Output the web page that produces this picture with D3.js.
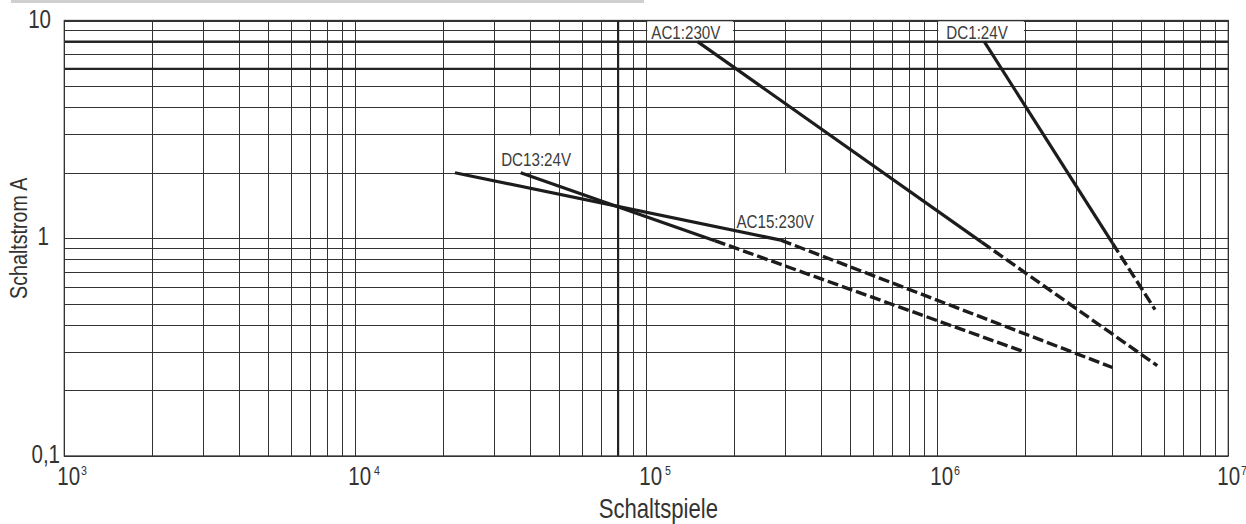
<!DOCTYPE html>
<html><head><meta charset="utf-8">
<script src="https://cdn.jsdelivr.net/npm/d3@7"></script>
<style>body{margin:0;background:#fff}svg{display:block}</style>
</head><body>
<svg id="c" width="1246" height="524"></svg>
<script>
// ---------- data ----------
const xDomain = [1e3, 1e7];
const yDomain = [0.1, 10];
const xTickValues = [1e3, 1e4, 1e5, 1e6, 1e7];
const xTickBase = ["10", "10", "10", "10", "10"];
const xTickExp = ["3", "4", "5", "6", "7"];
const yTickValues = [10, 1, 0.1];
const yTickLabels = ["10", "1", "0,1"];
const xThickGrid = [8e4];
const yThickGrid = [8, 6];
const xTitle = "Schaltspiele";
const yTitle = "Schaltstrom A";

const seriesNames = ["AC1:230V", "DC1:24V", "AC15:230V", "DC13:24V"];
// points: start, beginning of dashed part, end
const ac1X = [1.5e5, 1.42e6, 5.7e6];
const ac1Y = [8, 0.96, 0.26];
const dc1X = [1.45e6, 4.0e6, 5.6e6];
const dc1Y = [8, 0.95, 0.47];
const ac15X = [2.2e4, 2.9e5, 4.0e6];
const ac15Y = [2, 0.98, 0.255];
const dc13X = [3.7e4, 1.72e5, 2.0e6];
const dc13Y = [2, 0.975, 0.3];
const seriesX = [ac1X, dc1X, ac15X, dc13X];
const seriesY = [ac1Y, dc1Y, ac15Y, dc13Y];
const dashFrom = [1, 1, 1, 1];

// ---------- layout ----------
const L = 64.3, R = 1228.3, T = 20.5, B = 456;
const labelBoxes = [ // [x0,x1,y0,y1] in data units
  [1e5, 2e5, 8, 10], [1e6, 2e6, 8, 10], [2e5, 4e5, 1, 2], [3e4, 6e4, 2, 3]
];
const labelPos = [ // text left x (data), dx, baseline y (data), dy
  [1e5, 5, 8, -3], [1e6, 9, 8, -3], [2e5, 2.5, 1, -10], [3e4, 7, 2, -6.5]
];

const svg = d3.select("#c");
const x = d3.scaleLog().domain(xDomain).range([L, R]);
const y = d3.scaleLog().domain(yDomain).range([B, T]);

// narrow font detection
const FONT = "'Liberation Sans Narrow','Arial Narrow','Liberation Sans',Arial,sans-serif";
function measure(fam) {
  const t = svg.append("text").attr("font-family", fam).attr("font-size", 50).text("Schaltspiele 10");
  const w = t.node().getComputedTextLength(); t.remove(); return w;
}
const wN = measure("'Liberation Sans Narrow','Arial Narrow','Liberation Sans'");
const wR = measure("'Liberation Sans'");
const SX = (wN > wR * 0.95) ? 0.82 : 1;

function txt(parent, px, py, str, size, anchor, color, rot) {
  const g = parent.append("g").attr("transform",
    `translate(${px},${py})` + (rot ? ` rotate(${rot})` : "") + ` scale(${SX},1)`);
  g.append("text").attr("x", 0).attr("y", 0).attr("font-family", FONT)
    .attr("font-size", size).attr("text-anchor", anchor || "start")
    .attr("fill", color || "#333").text(str);
  return g;
}

// top gray strip
svg.append("rect").attr("x", 11).attr("y", 0).attr("width", 633).attr("height", 3).attr("fill", "#cfcfcf");

// grid via axes
const gx = svg.append("g").attr("transform", `translate(0,${B})`)
  .call(d3.axisBottom(x).tickValues(x.ticks()).tickSize(-(B - T)).tickFormat(""));
const gy = svg.append("g").attr("transform", `translate(${L},0)`)
  .call(d3.axisLeft(y).tickValues(y.ticks()).tickSize(-(R - L)).tickFormat(""));
[gx, gy].forEach(g => {
  g.select(".domain").remove();
  g.selectAll(".tick line").attr("stroke", "#333").attr("stroke-width", 1).attr("shape-rendering", "crispEdges");
});
// thick grid lines
svg.selectAll(".vthick").data(xThickGrid).enter().append("line")
  .attr("x1", d => x(d)).attr("x2", d => x(d)).attr("y1", T).attr("y2", B)
  .attr("stroke", "#222").attr("stroke-width", 2.2);
svg.selectAll(".hthick").data(yThickGrid).enter().append("line")
  .attr("x1", L).attr("x2", R).attr("y1", d => y(d)).attr("y2", d => y(d))
  .attr("stroke", "#222").attr("stroke-width", 2);
// frame
svg.append("rect").attr("x", L).attr("y", T).attr("width", R - L).attr("height", B - T)
  .attr("fill", "none").attr("stroke", "#333").attr("stroke-width", 1.3);

// label boxes
labelBoxes.forEach(b => {
  svg.append("rect").attr("x", x(b[0]) + 1).attr("width", x(b[1]) - x(b[0]) - 2)
    .attr("y", y(b[3]) + (b[3] === 10 ? 0.8 : 1)).attr("height", y(b[2]) - y(b[3]) - 2.2)
    .attr("fill", "#fff");
});

// series
const line = d3.line().x(d => x(d[0])).y(d => y(d[1]));
seriesNames.forEach((name, i) => {
  const pts = seriesX[i].map((v, j) => [v, seriesY[i][j]]);
  const k = dashFrom[i];
  svg.append("path").attr("d", line(pts.slice(0, k + 1))).attr("fill", "none")
    .attr("stroke", "#1c1c1c").attr("stroke-width", 3.2);
  svg.append("path").attr("d", line(pts.slice(k))).attr("fill", "none")
    .attr("stroke", "#1c1c1c").attr("stroke-width", 3.4).attr("stroke-dasharray", "11,4");
  const p = labelPos[i];
  txt(svg, x(p[0]) + p[1], y(p[2]) + p[3], name, 18.5, "start", "#3c3c3c");
});

// y tick labels
const yRight = {"10": 51, "1": 49, "0,1": 60};
yTickValues.forEach((v, i) => {
  txt(svg, yRight[yTickLabels[i]], y(v) + 7, yTickLabels[i], 25, "end", "#333");
});
// x tick labels
xTickValues.forEach((v, i) => {
  const off = (i === xTickValues.length - 1) ? -11 : -7;
  const base = txt(svg, x(v) + off, 485, xTickBase[i], 25, "start", "#333");
  const w = base.select("text").node().getComputedTextLength() * SX;
  const gap = (xTickExp[i] === "4" || xTickExp[i] === "5") ? 3 : 1;
  txt(svg, x(v) + off + w + gap, 475, xTickExp[i], 13, "start", "#333");
});
// titles
txt(svg, (L + R) / 2 + 12, 518, xTitle, 27, "middle", "#333");
txt(svg, 27, (T + B) / 2, yTitle, 24, "middle", "#333", -90);
</script>
</body></html>
